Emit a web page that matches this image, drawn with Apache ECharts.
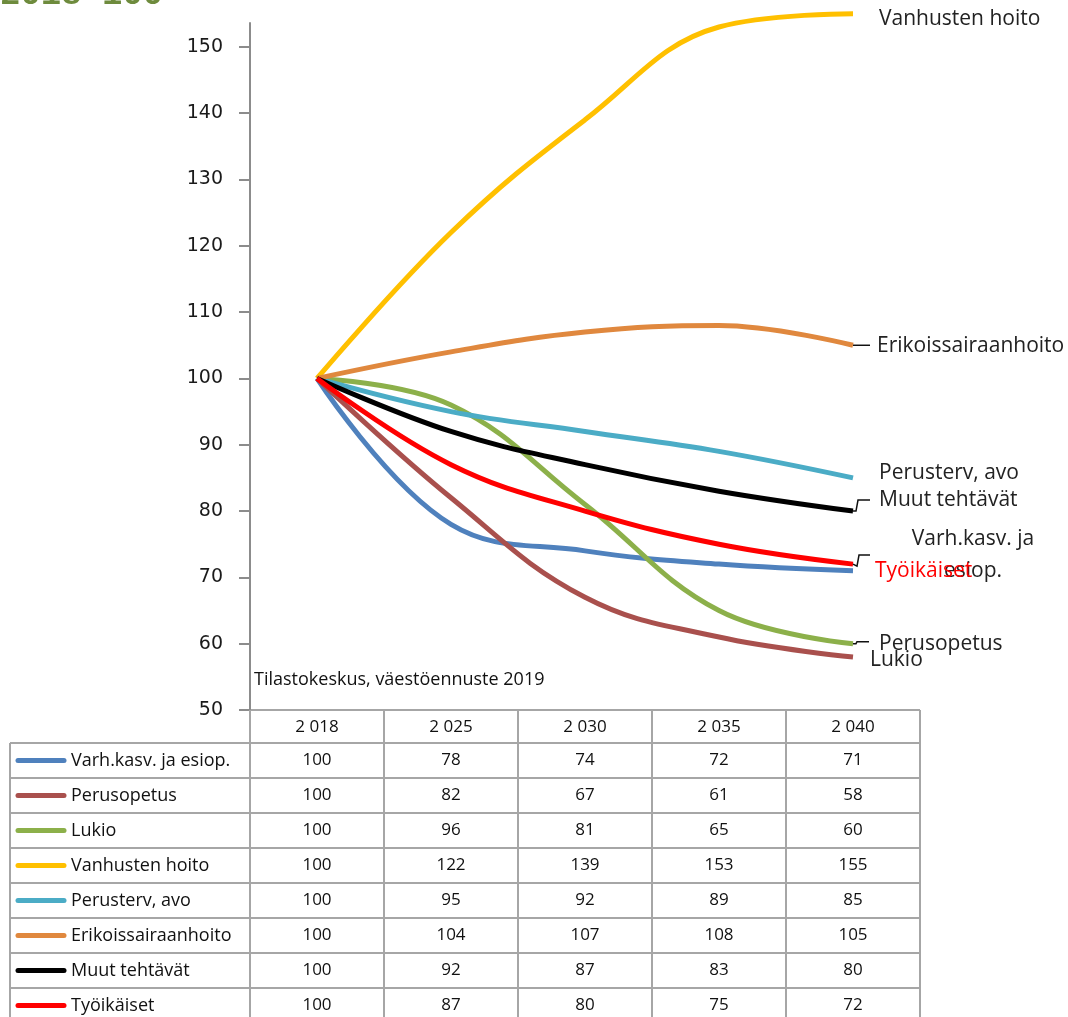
<!DOCTYPE html>
<html><head><meta charset="utf-8">
<script src="https://cdn.jsdelivr.net/npm/echarts@6/dist/echarts.min.js"></script>
<style>html,body{margin:0;padding:0;background:#fff}#c{width:1068px;height:1017px}</style>
</head><body><div id="c"></div>
<script>
const years = ['2 018', '2 025', '2 030', '2 035', '2 040'];
const seriesNames = ['Varh.kasv. ja esiop.', 'Perusopetus', 'Lukio', 'Vanhusten hoito', 'Perusterv, avo', 'Erikoissairaanhoito', 'Muut tehtävät', 'Työikäiset'];
const varh = [100, 78, 74, 72, 71];
const perusopetus = [100, 82, 67, 61, 58];
const lukio = [100, 96, 81, 65, 60];
const vanhusten = [100, 122, 139, 153, 155];
const perusterv = [100, 95, 92, 89, 85];
const erikois = [100, 104, 107, 108, 105];
const muut = [100, 92, 87, 83, 80];
const tyoikaiset = [100, 87, 80, 75, 72];
const endLabelTexts = ['Varh.kasv. ja\nesiop.', 'Lukio', 'Perusopetus', 'Vanhusten hoito', 'Perusterv, avo', 'Erikoissairaanhoito', 'Muut tehtävät', 'Työikäiset'];
const yTicks = [50, 60, 70, 80, 90, 100, 110, 120, 130, 140, 150];
const titleText = '2018=100';
const sourceText = 'Tilastokeskus, väestöennuste 2019';

const allData = [varh, perusopetus, lukio, vanhusten, perusterv, erikois, muut, tyoikaiset];
const colors = ['#4F81BD', '#A9504D', '#8CB04A', '#FFC000', '#4BACC6', '#E0883E', '#000000', '#FF0000'];
const labelColors = ['#222', '#222', '#222', '#222', '#222', '#222', '#222', '#FF0000'];
const labelOffsets = [[120, -16], [17, 3], [26, 0], [26, 5], [26, -5], [24, 1], [26, -11], [22, 7]];
const labelAligns = ['center', 'left', 'left', 'left', 'left', 'left', 'left', 'left'];
const leaders = [null, null, [[3, 0], [4, -2], [16, -2]], null, null, [[5, 0], [17, 0]], [[3, 0], [5, -11], [17, -11]], [[4, 2], [6, -9], [17, -9]]];

const W = 1068, H = 1017;
const gL = 250, gR = 920, gT = 23, gB = 710;
const headerH = 33, rowH = 35, tableLeft = 10;
const colW = (gR - gL) / years.length;
const gridCol = '#A6A6A6';
const tableFont = '"Open Sans", Lato, sans-serif';

const chart = echarts.init(document.getElementById('c'), null, {renderer: 'canvas'});

const graphic = [];
graphic.push({type: 'text', left: 0, top: -22, style: {text: titleText, font: 'bold 34px "Liberation Mono", monospace', fill: '#6E8B3D'}});
graphic.push({type: 'text', x: gL + 4, y: 680, style: {text: sourceText, font: '18px ' + tableFont, fill: '#111', verticalAlign: 'middle'}});
for (let k = 0; k <= years.length; k++) {
  const x = gL + colW * k;
  graphic.push({type: 'line', shape: {x1: x, y1: gB, x2: x, y2: H}, style: {stroke: gridCol, lineWidth: 2}, z: 1});
}
graphic.push({type: 'line', shape: {x1: tableLeft, y1: gB + headerH, x2: tableLeft, y2: H}, style: {stroke: gridCol, lineWidth: 2}});
graphic.push({type: 'line', shape: {x1: gL, y1: gB, x2: gR, y2: gB}, style: {stroke: gridCol, lineWidth: 2}});
for (let r = 0; r <= seriesNames.length; r++) {
  const y = gB + headerH + rowH * r;
  graphic.push({type: 'line', shape: {x1: tableLeft, y1: y, x2: gR, y2: y}, style: {stroke: gridCol, lineWidth: 2}});
}
years.forEach((yr, i) => {
  graphic.push({type: 'text', x: gL + colW * (i + 0.5), y: gB + headerH / 2 + 1, style: {text: yr, font: '17px ' + tableFont, fill: '#111', align: 'center', verticalAlign: 'middle'}});
});
seriesNames.forEach((name, r) => {
  const cy = gB + headerH + rowH * (r + 0.5);
  graphic.push({type: 'line', shape: {x1: 18, y1: cy, x2: 64, y2: cy}, style: {stroke: colors[r], lineWidth: 5, lineCap: 'round'}});
  graphic.push({type: 'text', x: 71, y: cy, style: {text: name, font: '18px ' + tableFont, fill: '#111', verticalAlign: 'middle'}});
  allData[r].forEach((v, i) => {
    graphic.push({type: 'text', x: gL + colW * (i + 0.5), y: cy, style: {text: String(v), font: '17px ' + tableFont, fill: '#111', align: 'center', verticalAlign: 'middle'}});
  });
});

const series = seriesNames.map((name, i) => ({
  name: name,
  type: 'line',
  data: allData[i],
  smooth: 0.4,
  symbol: 'none',
  clip: false,
  lineStyle: {color: colors[i], width: 5},
  itemStyle: {color: colors[i]},
  endLabel: {
    show: true,
    formatter: () => endLabelTexts[i],
    distance: 0,
    offset: labelOffsets[i],
    align: labelAligns[i],
    color: labelColors[i],
    fontFamily: '"Open Sans", sans-serif',
    fontSize: 21,
    lineHeight: 32
  },
  z: 3 + i
}));

chart.setOption({
  animation: false,
  backgroundColor: '#fff',
  grid: {left: gL, right: W - gR, top: gT, bottom: H - gB, containLabel: false},
  xAxis: {
    type: 'category', data: years, boundaryGap: true,
    axisLine: {show: false}, axisTick: {show: false}, axisLabel: {show: false}, splitLine: {show: false}
  },
  yAxis: {
    type: 'value', min: 50, max: 153.6, interval: 10,
    axisLine: {show: true, lineStyle: {color: '#8C8C8C', width: 2}},
    axisTick: {show: true, inside: false, length: 11, lineStyle: {color: '#8C8C8C', width: 2}, customValues: yTicks},
    axisLabel: {margin: 27, color: '#1a1a1a', fontSize: 19, fontFamily: '"DejaVu Sans", sans-serif', customValues: yTicks},
    splitLine: {show: false}
  },
  graphic: graphic,
  series: series
});

const extra = [];
allData.forEach((d, i) => {
  if (!leaders[i]) return;
  const last = d.length - 1;
  const p = chart.convertToPixel({seriesIndex: i}, [last, d[last]]);
  const pts = [[p[0], p[1]]].concat(leaders[i].map(o => [p[0] + o[0], p[1] + o[1]]));
  extra.push({type: 'polyline', shape: {points: pts}, style: {stroke: '#111', lineWidth: 1.5, fill: null}, z: 50});
});
chart.setOption({graphic: graphic.concat(extra)});
</script></body></html>
